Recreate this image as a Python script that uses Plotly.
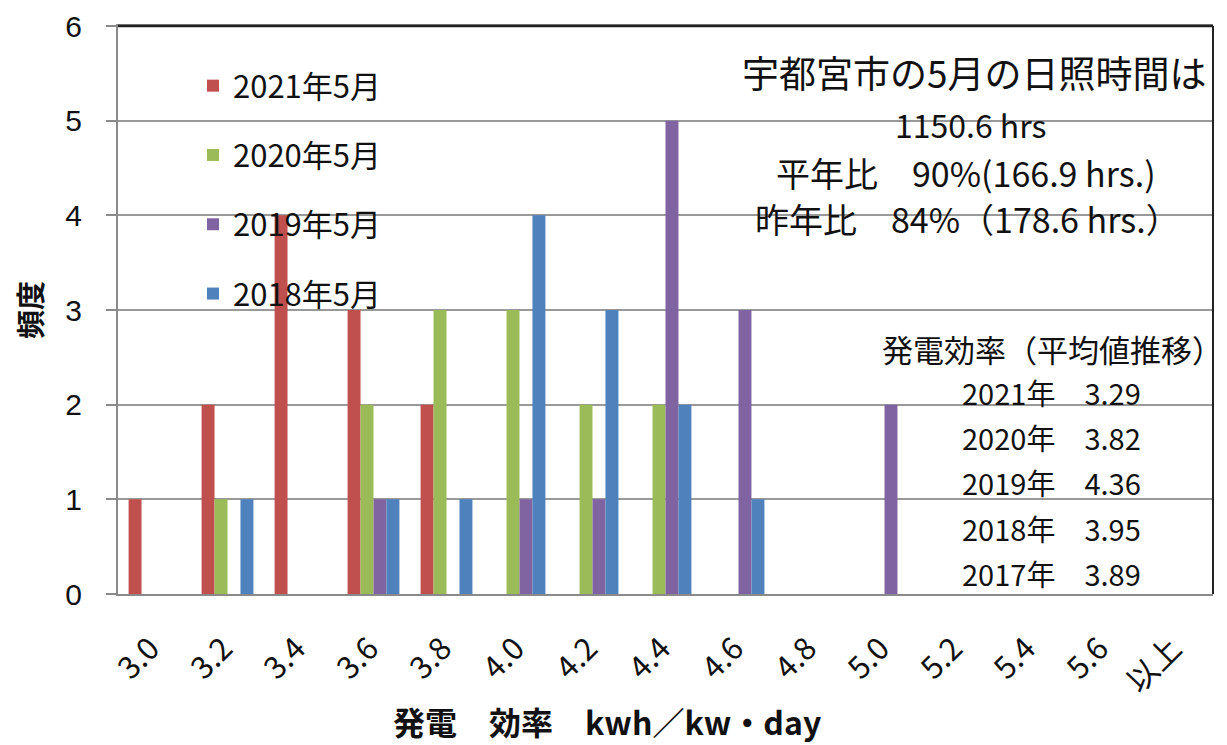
import plotly.graph_objects as go

categories = ["3.0", "3.2", "3.4", "3.6", "3.8", "4.0", "4.2", "4.4", "4.6", "4.8",
              "5.0", "5.2", "5.4", "5.6", "以上"]
series_names = ["2021年5月", "2020年5月", "2019年5月", "2018年5月"]
v2021 = [1, 2, 4, 3, 2, 0, 0, 0, 0, 0, 0, 0, 0, 0, 0]
v2020 = [0, 1, 0, 2, 3, 3, 2, 2, 0, 0, 0, 0, 0, 0, 0]
v2019 = [0, 0, 0, 1, 0, 1, 1, 5, 3, 0, 2, 0, 0, 0, 0]
v2018 = [0, 1, 0, 1, 1, 4, 3, 2, 1, 0, 0, 0, 0, 0, 0]
colors = ["#C0504D", "#9BBB59", "#8064A2", "#4F81BD"]

sun_lines = ["宇都宮市の5月の日照時間は", "1150.6 hrs", "平年比　90%(166.9 hrs.)", "昨年比　84%（178.6 hrs.）"]
eff_title = "発電効率（平均値推移）"
eff_years = ["2021年", "2020年", "2019年", "2018年", "2017年"]
eff_values = ["3.29", "3.82", "4.36", "3.95", "3.89"]
x_title = "発電　効率　kwh／kw・day"
y_title = "頻度"

FONT = "Noto Sans CJK JP"
NUMFONT = "Liberation Sans"
# page body has an 8px margin; plot area on screen spans x 118..1213, y 26..594
W, H = 1219, 737
L, R, T, B = 110, 14, 18, 151
PX0, PX1, PY0, PY1 = 118, 1213, 26, 594


def px(x):
    return (x - PX0) / (PX1 - PX0)


def py(y):
    return (PY1 - y) / (PY1 - PY0)


fig = go.Figure()
for name, vals, col in zip(series_names, [v2021, v2020, v2019, v2018], colors):
    fig.add_trace(go.Bar(x=categories, y=vals, name=name, marker_color=col,
                         marker_line_width=0, legendgroup=name))

annotations = []
sun_pos = [(974, 72, 37), (971, 124, 32), (966, 172, 34), (967, 218, 34)]
for txt, (x, y, s) in zip(sun_lines, sun_pos):
    annotations.append(dict(x=px(x), y=py(y), xref="paper", yref="paper", text=txt,
                            showarrow=False, xanchor="center", yanchor="middle",
                            font=dict(family=FONT, size=s, color="#111")))
annotations.append(dict(x=px(1052), y=py(348), xref="paper", yref="paper", text=eff_title,
                        showarrow=False, xanchor="center", yanchor="middle",
                        font=dict(family=FONT, size=31, color="#111")))
eff_y = [392, 437, 482, 528, 573]
for yr, v, y in zip(eff_years, eff_values, eff_y):
    annotations.append(dict(x=px(1051), y=py(y), xref="paper", yref="paper",
                            text=f"{yr}　{v}", showarrow=False, xanchor="center",
                            yanchor="middle", font=dict(family=FONT, size=29, color="#111")))
# x-axis title (offset left of the plot centre, as in the source chart)
annotations.append(dict(x=px(607), y=py(721), xref="paper", yref="paper",
                        text=f"<b>{x_title}</b>", showarrow=False, xanchor="center",
                        yanchor="middle", font=dict(family=FONT, size=32, color="#111")))

fig.update_layout(
    width=W, height=H,
    margin=dict(l=L, r=R, t=T, b=B),
    paper_bgcolor="white", plot_bgcolor="white",
    font=dict(family=FONT, size=28, color="#111"),
    barmode="group", bargap=0.29, bargroupgap=0,
    showlegend=True,
    legend=dict(x=px(193), y=py(59), xanchor="left", yanchor="top",
                bgcolor="rgba(0,0,0,0)", font=dict(family=FONT, size=31, color="#111"),
                tracegroupgap=26, traceorder="grouped"),
    annotations=annotations,
    shapes=[
        dict(type="line", xref="paper", yref="paper", x0=0, x1=1, y0=1, y1=1,
             line=dict(color="#222", width=2.5), layer="above"),
        dict(type="line", xref="paper", yref="paper", x0=1, x1=1, y0=0, y1=1,
             line=dict(color="#222", width=2), layer="above"),
    ],
)
fig.update_xaxes(type="category", showgrid=False, showline=True, linecolor="#8a8a8a",
                 linewidth=2, mirror=True, ticks="", tickangle=-45, ticklabelstandoff=22,
                 ticklabelshift=-4, ticklabeloverflow="allow",
                 tickfont=dict(family=FONT, size=31, color="#111"),
                 automargin=False, fixedrange=True)
fig.update_yaxes(range=[0, 6], dtick=1, showgrid=True, gridcolor="#999999", gridwidth=2,
                 showline=True, linecolor="#8a8a8a", linewidth=2, ticks="outside",
                 ticklen=10, tickcolor="#8a8a8a", tickwidth=2, ticklabelstandoff=18,
                 ticklabeloverflow="allow",
                 tickfont=dict(family=NUMFONT, size=30, color="#111"), zeroline=False,
                 title=dict(text=f"<b>{y_title}</b>", font=dict(family=FONT, size=29, color="#111"),
                            standoff=17),
                 automargin=False, fixedrange=True)

fig.write_html("out.html")
